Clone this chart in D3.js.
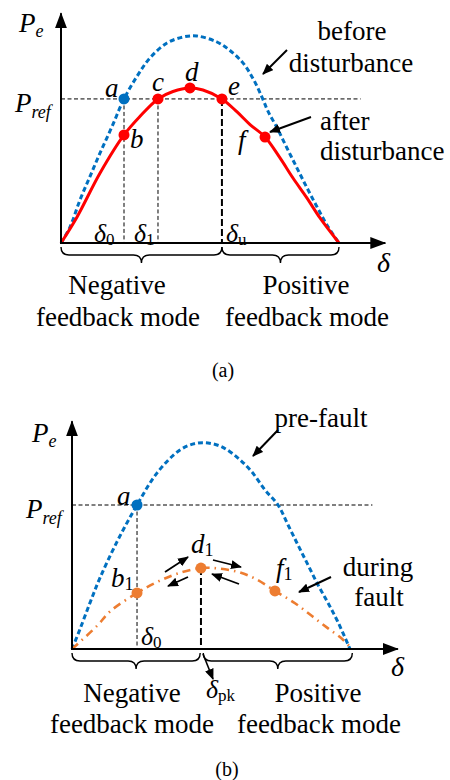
<!DOCTYPE HTML>
<html lang="en">
  <head>
    <meta http-equiv="content-type" content="text/html; charset=utf-8"/>
    <title>Power angle curves</title>
    <style>
      body { margin: 0; background: #fff; }
    </style>
    <script type="text/javascript" src="https://d3js.org/d3.v7.min.js"></script>
  </head>
  <body>
    <div id="chart"></div>
    <script>
      // =============================================
      // Data (delta in degrees, P relative to pre-fault peak)
      // =============================================
      var beforeA = [[0,0],[5.8,0.077],[12.3,0.208],[18.8,0.322],[25.3,0.435],[33,0.562],[40.8,0.696],
        [49.2,0.805],[57.6,0.894],[68.6,0.966],[79,0.995],[88,1.0],[101,0.971],[109.4,0.930],
        [117.8,0.870],[124.3,0.795],[130.1,0.705],[134,0.637],[139.9,0.556],[146.3,0.459],
        [152.8,0.362],[159.3,0.266],[165.8,0.174],[172.2,0.087],[180,0]];
      var afterA = [[0,0],[10.4,0.126],[25.3,0.338],[40.8,0.522],[51.2,0.612],[62.8,0.696],[72.5,0.732],
        [83.5,0.749],[91.9,0.739],[104.2,0.696],[114,0.633],[122.4,0.572],[132.1,0.512],
        [141.8,0.411],[150.2,0.314],[159.3,0.217],[167.7,0.121],[180,0]];
      var preFaultB = [[0,0],[5.2,0.097],[11.7,0.225],[18.1,0.345],[29.1,0.52],[42.1,0.699],[55,0.854],
        [69.9,0.966],[80,0.998],[88.1,1.0],[97.1,0.981],[107.5,0.927],[116.5,0.859],[125,0.772],
        [133.4,0.699],[139.9,0.602],[146.3,0.505],[152.8,0.408],[159.3,0.311],[165.8,0.223],
        [172.2,0.131],[180,0]];
      var duringB = [[0,0],[16.2,0.112],[24.6,0.182],[42.1,0.272],[55,0.325],[68,0.365],[83.5,0.393],
        [94.5,0.391],[107.5,0.374],[118.5,0.342],[131.4,0.282],[144.4,0.222],[155.4,0.160],
        [165.8,0.100],[174.8,0.050],[180,0.01]];

      // operating points: name, subscript, delta, P, colour key
      var pointsA = [["a","",40.8,0.696,"blue"],["b","",40.8,0.522,"red"],["c","",62.8,0.696,"red"],
        ["d","",83.5,0.749,"red"],["e","",104.2,0.696,"red"],["f","",132.1,0.512,"red"]];
      var pointsB = [["a","",42.1,0.699,"blue"],["b","1",42.1,0.272,"orange"],
        ["d","1",83.5,0.393,"orange"],["f","1",131.4,0.282,"orange"]];

      var prefA = 0.696, prefB = 0.699;
      var deltaA = { d0: 40.8, d1: 62.8, du: 104.2 };
      var deltaB = { d0: 42.1, dpk: 83.5 };

      var colors = { blue: "#0070C0", red: "#FF0000", orange: "#ED7D31" };
      var serif = "'Liberation Serif', 'Times New Roman', 'DejaVu Serif', serif";

      // =============================================
      // SVG + markers
      // =============================================
      var svg = d3.select("#chart").append("svg")
        .attr("width", 450).attr("height", 780)
        .attr("font-family", serif);

      var defs = svg.append("defs");
      defs.append("marker").attr("id", "axisHead")
        .attr("markerUnits", "userSpaceOnUse")
        .attr("viewBox", "0 0 16 12").attr("refX", 15).attr("refY", 6)
        .attr("markerWidth", 16).attr("markerHeight", 12).attr("orient", "auto")
        .append("path").attr("d", "M0,0 L16,6 L0,12 z").attr("fill", "#000");
      defs.append("marker").attr("id", "arrowHead")
        .attr("markerUnits", "userSpaceOnUse")
        .attr("viewBox", "0 0 11 9").attr("refX", 10).attr("refY", 4.5)
        .attr("markerWidth", 11).attr("markerHeight", 9).attr("orient", "auto")
        .append("path").attr("d", "M0,0 L11,4.5 L0,9 z").attr("fill", "#000");

      function brace(x1, x2, y, h) {
        var mid = (x1 + x2) / 2, q = h / 2;
        return "M" + x1 + "," + y + " Q" + x1 + "," + (y + q) + " " + (x1 + q) + "," + (y + q) +
          " L" + (mid - q) + "," + (y + q) + " Q" + mid + "," + (y + q) + " " + mid + "," + (y + h) +
          " Q" + mid + "," + (y + q) + " " + (mid + q) + "," + (y + q) +
          " L" + (x2 - q) + "," + (y + q) + " Q" + x2 + "," + (y + q) + " " + x2 + "," + y;
      }

      function label(g, x, y, main, sub, opts) {
        opts = opts || {};
        var t = g.append("text").attr("x", x).attr("y", y)
          .style("font-family", serif)
          .style("font-size", (opts.size || 27) + "px")
          .attr("fill", "#000")
          .attr("text-anchor", opts.anchor || "start");
        t.append("tspan").style("font-style", opts.mainItalic === false ? "normal" : "italic").text(main);
        if (sub) {
          t.append("tspan").style("font-style", opts.subItalic ? "italic" : "normal")
            .attr("dy", opts.subDy || 5)
            .style("font-size", (opts.subSize || 17) + "px").text(sub);
        }
        return t;
      }

      function arrow(g, x1, y1, x2, y2, w) {
        g.append("line").attr("x1", x1).attr("y1", y1).attr("x2", x2).attr("y2", y2)
          .attr("stroke", "#000").attr("stroke-width", w || 2)
          .attr("marker-end", "url(#arrowHead)");
      }

      // =============================================
      // Panel drawing
      // =============================================
      function drawPanel(cfg) {
        var x = d3.scaleLinear().domain([0, 180]).range(cfg.xRange);
        var y = d3.scaleLinear().domain([0, 1]).range(cfg.yRange);
        var g = svg.append("g");
        var line = d3.line()
          .x(function(d) { return x(d[0]); })
          .y(function(d) { return y(d[1]); })
          .curve(d3.curveCatmullRom.alpha(0.5));

        // Pref line
        g.append("line").attr("x1", x(0)).attr("x2", x(cfg.prefEnd))
          .attr("y1", y(cfg.pref)).attr("y2", y(cfg.pref))
          .attr("stroke", "#000").attr("stroke-width", 1).attr("stroke-dasharray", "4,2.5");

        // vertical guides
        cfg.guides.forEach(function(gd) {
          g.append("line").attr("x1", x(gd[0])).attr("x2", x(gd[0]))
            .attr("y1", y(gd[1])).attr("y2", y(0))
            .attr("stroke", "#000")
            .attr("stroke-width", gd[2] ? 2 : 1)
            .attr("stroke-dasharray", gd[2] ? "7,3" : "4,2.5");
        });

        // curves
        cfg.curves.forEach(function(c) {
          g.append("path").datum(c.data).attr("d", line)
            .attr("fill", "none").attr("stroke", colors[c.color])
            .attr("stroke-width", c.width)
            .attr("stroke-dasharray", c.dash || null);
        });

        // axes
        g.append("line").attr("x1", x(0)).attr("y1", y(0)).attr("x2", x(0)).attr("y2", y(cfg.yTop))
          .attr("stroke", "#000").attr("stroke-width", 2).attr("marker-end", "url(#axisHead)");
        g.append("line").attr("x1", x(0) - 1).attr("y1", y(0)).attr("x2", x(cfg.xTop)).attr("y2", y(0))
          .attr("stroke", "#000").attr("stroke-width", 2).attr("marker-end", "url(#axisHead)");

        // points
        g.selectAll("circle.pt").data(cfg.points).enter().append("circle")
          .attr("class", "pt")
          .attr("cx", function(d) { return x(d[2]); })
          .attr("cy", function(d) { return y(d[3]); })
          .attr("r", 5.5)
          .attr("fill", function(d) { return colors[d[4]]; });

        // braces
        cfg.braces.forEach(function(b) {
          g.append("path").attr("d", brace(x(b[0]), x(b[1]), y(0) + 4, 16))
            .attr("fill", "none").attr("stroke", "#000").attr("stroke-width", 1.4);
        });

        return { g: g, x: x, y: y };
      }

      // =============================================
      // (a)
      // =============================================
      var pa = drawPanel({
        xRange: [61, 339], yRange: [243, 36], pref: prefA, prefEnd: 194, yTop: 1.11, xTop: 210,
        guides: [[deltaA.d0, prefA, false], [deltaA.d1, prefA, false], [deltaA.du, prefA, true]],
        curves: [
          { data: beforeA, color: "blue", width: 3, dash: "5,3" },
          { data: afterA, color: "red", width: 3 }
        ],
        points: pointsA,
        braces: [[0, deltaA.du], [deltaA.du, 180]]
      });
      var ga = pa.g;
      label(ga, 19, 32, "P", "e", { subItalic: true, subDy: 5, subSize: 18 });
      label(ga, 15, 112, "P", "ref", { subItalic: true, subDy: 6, subSize: 18 });
      label(ga, 105, 97, "a");
      label(ga, 130, 148, "b");
      label(ga, 152, 91, "c");
      label(ga, 185, 81, "d");
      label(ga, 228, 95, "e");
      label(ga, 238, 149, "f");
      label(ga, 94, 242, "\u03b4", "0", { size: 26, subSize: 17, subDy: 3 });
      label(ga, 134, 242, "\u03b4", "1", { size: 26, subSize: 17, subDy: 3 });
      label(ga, 226, 242, "\u03b4", "u", { size: 26, subSize: 17, subDy: 3 });
      label(ga, 377, 272, "\u03b4", "", { size: 28 });
      label(ga, 352, 40, "before", "", { anchor: "middle", mainItalic: false });
      label(ga, 351, 72, "disturbance", "", { anchor: "middle", mainItalic: false });
      label(ga, 320, 130, "after", "", { mainItalic: false });
      label(ga, 320, 160, "disturbance", "", { mainItalic: false });
      arrow(ga, 287, 50, 263, 74);
      arrow(ga, 311, 117, 270, 132);
      label(ga, 117, 294, "Negative", "", { anchor: "middle", mainItalic: false });
      label(ga, 118, 326, "feedback mode", "", { anchor: "middle", mainItalic: false });
      label(ga, 306, 294, "Positive", "", { anchor: "middle", mainItalic: false });
      label(ga, 307, 326, "feedback mode", "", { anchor: "middle", mainItalic: false });
      label(ga, 223, 377, "(a)", "", { anchor: "middle", mainItalic: false, size: 20 });

      // =============================================
      // (b)
      // =============================================
      var pb = drawPanel({
        xRange: [72, 350], yRange: [649, 443], pref: prefB, prefEnd: 194.5, yTop: 1.105, xTop: 211,
        guides: [[deltaB.d0, prefB, false], [deltaB.dpk, 0.393, true]],
        curves: [
          { data: preFaultB, color: "blue", width: 3, dash: "5,3" },
          { data: duringB, color: "orange", width: 2.6, dash: "8,5,1.5,5" }
        ],
        points: pointsB,
        braces: [[0, deltaB.dpk - 0.5], [deltaB.dpk + 1.5, 181.5]]
      });
      var gb = pb.g;
      label(gb, 32, 442, "P", "e", { subItalic: true, subDy: 5, subSize: 18 });
      label(gb, 26, 518, "P", "ref", { subItalic: true, subDy: 6, subSize: 18 });
      label(gb, 117, 505, "a");
      label(gb, 111, 587, "b", "1", { subSize: 18, subDy: 3 });
      label(gb, 191, 553, "d", "1", { subSize: 18, subDy: 3 });
      label(gb, 276, 577, "f", "1", { subSize: 18, subDy: 3 });
      label(gb, 141, 645, "\u03b4", "0", { size: 26, subSize: 17, subDy: 3 });
      label(gb, 206, 698, "\u03b4", "pk", { size: 26, subSize: 17, subDy: 3 });
      label(gb, 391, 676, "\u03b4", "", { size: 28 });
      label(gb, 321, 427, "pre-fault", "", { anchor: "middle", mainItalic: false });
      label(gb, 378, 576, "during", "", { anchor: "middle", mainItalic: false });
      label(gb, 379, 606, "fault", "", { anchor: "middle", mainItalic: false });
      arrow(gb, 278, 430, 253, 456);
      arrow(gb, 331, 577, 299, 592);
      arrow(gb, 165, 572, 188, 557, 1.8);
      arrow(gb, 188, 577, 168, 586, 1.8);
      arrow(gb, 213, 560, 241, 567, 1.8);
      arrow(gb, 239, 584, 212, 574, 1.8);
      arrow(gb, 203, 654, 213, 679, 1.6);
      label(gb, 132, 702, "Negative", "", { anchor: "middle", mainItalic: false });
      label(gb, 132, 733, "feedback mode", "", { anchor: "middle", mainItalic: false });
      label(gb, 318, 702, "Positive", "", { anchor: "middle", mainItalic: false });
      label(gb, 319, 733, "feedback mode", "", { anchor: "middle", mainItalic: false });
      label(gb, 227, 776, "(b)", "", { anchor: "middle", mainItalic: false, size: 20 });
    </script>
  </body>
</html>
